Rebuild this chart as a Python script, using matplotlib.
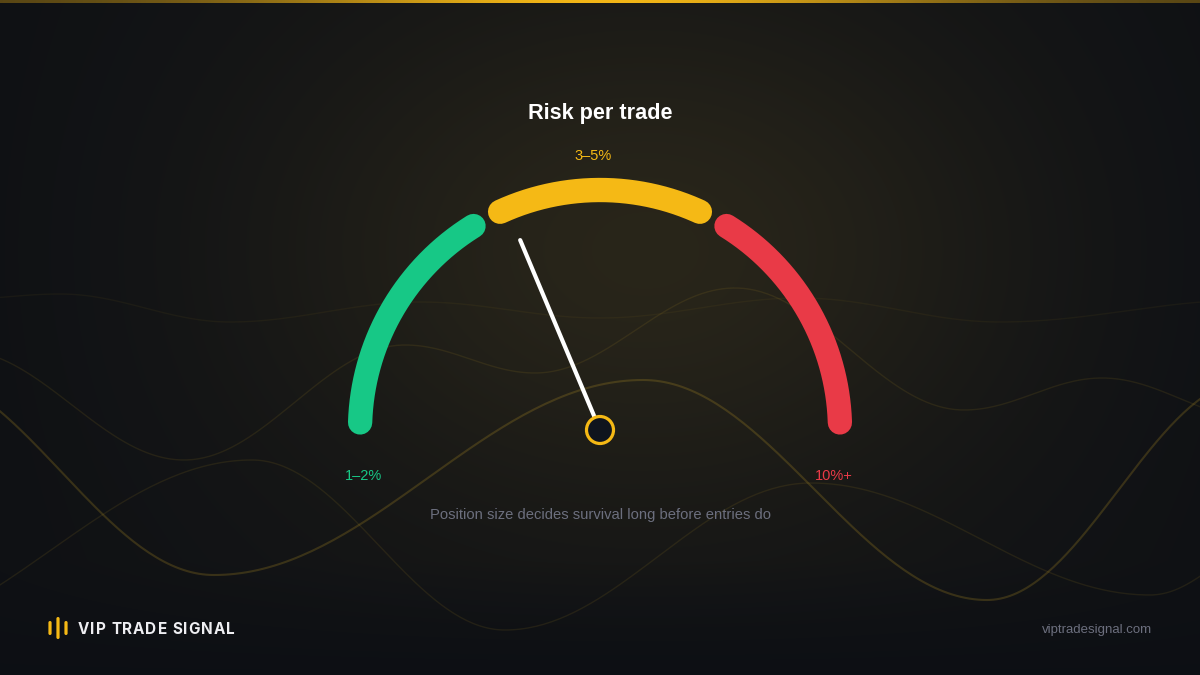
import numpy as np
import matplotlib
matplotlib.use("Agg")
import matplotlib.pyplot as plt
from matplotlib.patches import Circle, FancyBboxPatch

plt.rcParams['font.family'] = ['Liberation Sans', 'DejaVu Sans']

# gauge data: three risk zones on a 0..3 scale, needle reading
zone_labels = ["1–2%", "3–5%", "10%+"]
zone_start = [0.03, 1.09, 2.03]
zone_end = [0.97, 1.91, 2.97]
zone_colors = ["#17c886", "#f5b915", "#e93a47"]
needle_value = 1.12
scale_max = 3.0

title = "Risk per trade"
subtitle = "Position size decides survival long before entries do"
brand = "VIP TRADE SIGNAL"
site = "viptradesignal.com"

# decorative background waves: turning points (x, y) in pixels
wave_a = [(-90, 370), (214, 575), (643, 380), (987, 600), (1250, 380)]
wave_b = [(-40, 350), (184, 460), (405, 345), (535, 373), (735, 288),
          (964, 410), (1102, 378), (1260, 420)]
wave_c = [(-150, 640), (252, 460), (505, 630), (811, 483), (1150, 595), (1300, 520)]
wave_d = [(-50, 300), (60, 294), (230, 322), (420, 302), (600, 318),
          (800, 298), (1000, 322), (1250, 300)]

W, H = 1200, 675
fig = plt.figure(figsize=(12, 6.75), dpi=100)
ax = fig.add_axes([0, 0, 1, 1])
ax.set_xlim(0, W)
ax.set_ylim(H, 0)
ax.axis("off")

# background: dark base, warm glow in the middle, darker footer band
yy, xx = np.mgrid[0:H, 0:W]
base = np.array([0.070, 0.075, 0.082])
warm = np.array([0.090, 0.072, 0.020])
glow = np.exp(-(((xx - 660) / 420.0) ** 2 + ((yy - 250) / 260.0) ** 2))
img = base[None, None, :] + glow[..., None] * warm[None, None, :]
cool = np.array([0.050, 0.060, 0.080])
edge = np.clip((np.abs(xx - 600) / 600.0) ** 2, 0, 1) * 0.55
img = img * (1 - edge[..., None]) + cool * edge[..., None]
foot = np.clip((yy - 560) / 115.0, 0, 1)
img = img * (1 - foot[..., None]) + cool * foot[..., None]
ax.imshow(np.clip(img, 0, 1), extent=[0, W, H, 0], zorder=0, aspect="auto")


def smooth_wave(points, n=80):
    xs, ys = [], []
    for (x0, y0), (x1, y1) in zip(points[:-1], points[1:]):
        t = np.linspace(0, 1, n)
        s = (1 - np.cos(np.pi * t)) / 2
        xs.append(x0 + (x1 - x0) * t)
        ys.append(y0 + (y1 - y0) * s)
    return np.concatenate(xs), np.concatenate(ys)


for pts, lw, a in [(wave_a, 1.5, 0.22), (wave_b, 1.0, 0.11),
                   (wave_c, 1.0, 0.11), (wave_d, 1.0, 0.06)]:
    wx, wy = smooth_wave(pts)
    ax.plot(wx, wy, color="#c9a227", lw=lw, alpha=a, zorder=1)

# top gold line
xg = np.linspace(0, 1, 400)
gold = np.zeros((1, 400, 4))
gold[..., 0], gold[..., 1], gold[..., 2] = 0.96, 0.72, 0.09
gold[..., 3] = 0.3 + 0.7 * np.exp(-((xg - 0.5) / 0.28) ** 2)
ax.imshow(gold, extent=[0, W, 3, 0], zorder=2, aspect="auto")

# gauge
cx, cy, R = 600, 430, 240


def to_angle(v):
    return np.pi * (1 - v / scale_max)


for s, e, c in zip(zone_start, zone_end, zone_colors):
    t = np.linspace(to_angle(s), to_angle(e), 200)
    ax.plot(cx + R * np.cos(t), cy - R * np.sin(t), color=c, lw=17.5,
            solid_capstyle="round", zorder=3)

ang = to_angle(needle_value)
ax.plot([cx, cx + 206 * np.cos(ang)], [cy, cy - 206 * np.sin(ang)],
        color="white", lw=3, solid_capstyle="round", zorder=4)
ax.add_patch(Circle((cx, cy), 13.5, facecolor="#0f141d", edgecolor=zone_colors[1],
                    lw=2.3, zorder=5))

# zone labels
label_pos = [(364, 476), (593, 156), (834, 476)]
for (lx, ly), txt, c in zip(label_pos, zone_labels, zone_colors):
    ax.text(lx, ly, txt, color=c, fontsize=10.5, ha="center", va="center", zorder=6)

ax.text(600, 113, title, color="white", fontsize=15.6, fontweight="bold",
        ha="center", va="center", zorder=6)
ax.text(600, 515, subtitle, color="#6c6f7e", fontsize=10.6,
        ha="center", va="center", zorder=6)

# footer brand
bars = [(50, 628, 14), (58, 628, 22), (66, 628, 14)]
for bx, by, bh in bars:
    ax.add_patch(FancyBboxPatch((bx - 1.6, by - bh / 2), 3.2, bh,
                                boxstyle="round,pad=0,rounding_size=1.6",
                                facecolor=zone_colors[1], edgecolor="none", zorder=6))

# brand name with letter spacing
renderer = fig.canvas.get_renderer()
x = 78.0
for ch in brand:
    t = ax.text(x, 630, ch, color="#eeeef2", fontsize=11, fontweight="bold",
                ha="left", va="center", zorder=6, family=["Inter", "DejaVu Sans"])
    w = t.get_window_extent(renderer).width if ch != " " else 3.5
    x += w + 1.0

ax.text(1152, 630, site, color="#6c6f7e", fontsize=9.5,
        ha="right", va="center", zorder=6)

fig.savefig("out.png", dpi=100, facecolor="#121316")
